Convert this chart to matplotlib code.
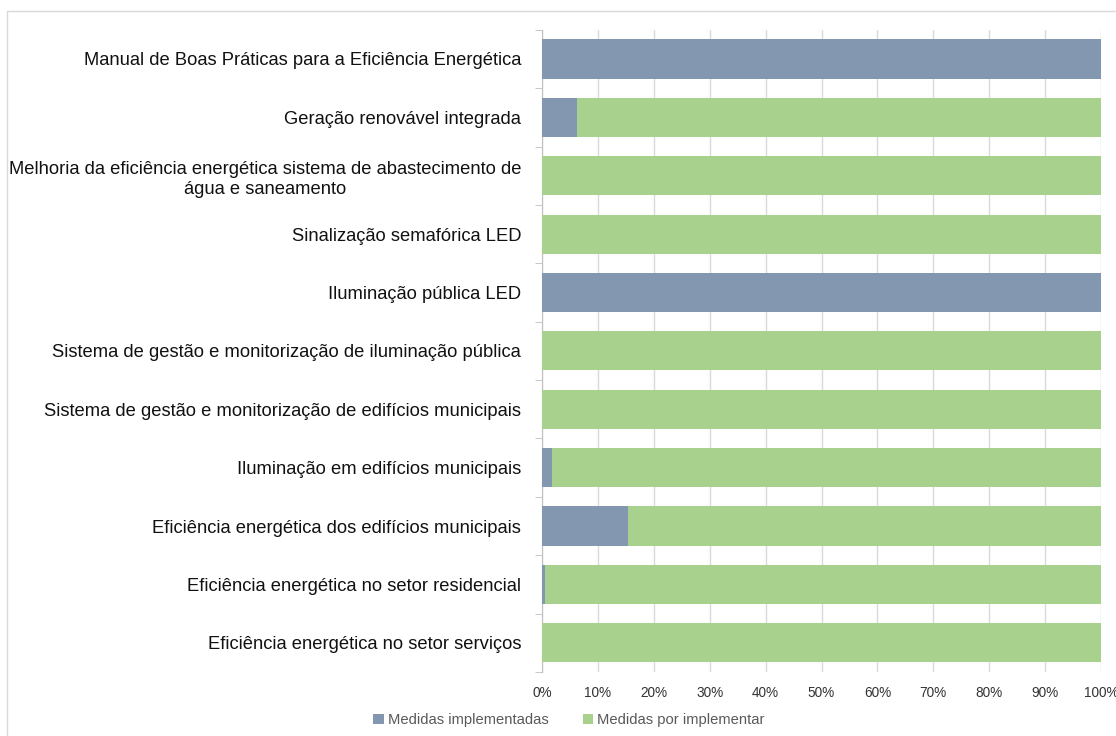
import matplotlib.pyplot as plt
import numpy as np
from matplotlib.patches import Rectangle

plt.rcParams['font.family'] = ['Liberation Sans', 'DejaVu Sans']

# dados
categorias = [
    'Manual de Boas Práticas para a Eficiência Energética',
    'Geração renovável integrada',
    'Melhoria da eficiência energética sistema de abastecimento de\nágua e saneamento',
    'Sinalização semafórica LED',
    'Iluminação pública LED',
    'Sistema de gestão e monitorização de iluminação pública',
    'Sistema de gestão e monitorização de edifícios municipais',
    'Iluminação em edifícios municipais',
    'Eficiência energética dos edifícios municipais',
    'Eficiência energética no setor residencial',
    'Eficiência energética no setor serviços',
]
implementadas = [100, 6.3, 0, 0, 100, 0, 0, 1.8, 15.4, 0.5, 0]
por_implementar = [100 - v for v in implementadas]
ticks = [0, 10, 20, 30, 40, 50, 60, 70, 80, 90, 100]

azul = '#8497B0'
verde = '#A9D18E'

fig = plt.figure(figsize=(11.16, 7.36), dpi=100)
ax = fig.add_axes([0.4857, 0.087, 0.5009, 0.8725])

y = np.arange(len(categorias))
ax.barh(y, implementadas, height=0.67, color=azul, label='Medidas implementadas', zorder=3)
ax.barh(y, por_implementar, left=implementadas, height=0.67, color=verde,
        label='Medidas por implementar', zorder=3)

ax.set_xlim(0, 100)
ax.set_ylim(len(categorias) - 0.5, -0.5)
ax.set_xticks(ticks)
ax.set_xticklabels([f'{t}%' for t in ticks], fontsize=9.8, color='#333333')
ax.set_yticks(y)
ax.set_yticklabels(categorias, fontsize=13.2, color='#111111')
for t in ax.get_yticklabels():
    t.set_multialignment('center')
    t.set_linespacing(1.25)
ax.tick_params(axis='y', length=0, pad=15)
ax.tick_params(axis='x', length=0, pad=10)
# marcas entre categorias
ax.set_yticks(np.arange(-0.5, len(categorias)), minor=True)
ax.tick_params(axis='y', which='minor', length=5, color='#BFBFBF')
ax.xaxis.grid(True, color='#D9D9D9', linewidth=1, zorder=0)
for s in ['top', 'right', 'bottom']:
    ax.spines[s].set_visible(False)
ax.spines['left'].set_color('#BFBFBF')

leg = fig.legend(loc='lower center', bbox_to_anchor=(0.51, -0.006), ncol=2, frameon=False,
                 fontsize=10.6, handlelength=0.7, handleheight=0.7, columnspacing=2.3,
                 handletextpad=0.3)
for t in leg.get_texts():
    t.set_color('#595959')

fig.patches.append(Rectangle((7 / 1116, -0.1), 1.2, 1 - 11 / 736 + 0.1,
                             transform=fig.transFigure, fill=False,
                             edgecolor='#D9D9D9', linewidth=1))

fig.savefig('out.png', dpi=100)
